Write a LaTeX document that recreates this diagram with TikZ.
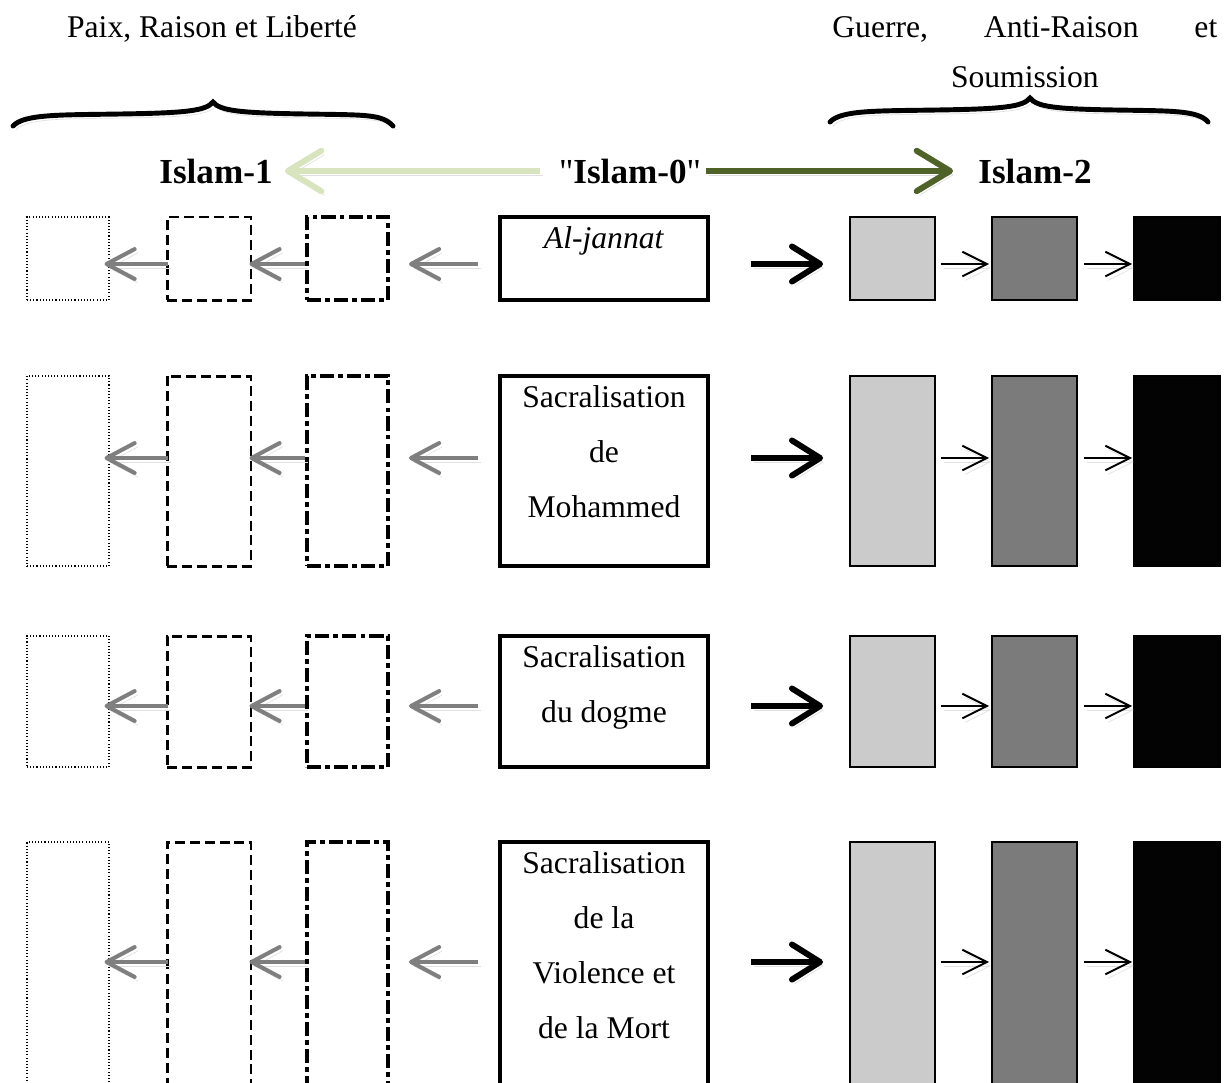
\documentclass[tikz,border=0pt]{standalone}
\usepackage{fontspec}
\setmainfont{Liberation Serif}
\usetikzlibrary{arrows.meta,positioning}
\definecolor{PaleGreen}{HTML}{D7E4BD}
\definecolor{OliveDark}{HTML}{4F6228}
\definecolor{ArrowGray}{HTML}{7F7F7F}
\definecolor{FillLight}{HTML}{CBCBCB}
\definecolor{FillMid}{HTML}{7B7B7B}
\definecolor{FillDark}{HTML}{030303}

\begin{document}
\begin{tikzpicture}[
  x=0.02cm, y=-0.02cm,
  font=\fontsize{18}{31.3}\selectfont,
  shadowed/.style={preaction={draw=black!12, transform canvas={shift={(3,4)}}}},
  label/.style={anchor=base, inner sep=0, font=\fontsize{20}{24}\selectfont},
  dotbox/.style={draw, line width=0.6pt, dash pattern=on 0.6pt off 1.2pt},
  dashbox/.style={draw, line width=1.7pt, dash pattern=on 5.7pt off 2.8pt},
  ddbox/.style={draw, line width=2.3pt, dash pattern=on 8pt off 2.3pt on 2.8pt off 2.3pt},
  midbox/.style={draw, line width=2.3pt},
  fillbox/.style={draw, line width=1.1pt, fill=#1},
  leftarrow/.style={ArrowGray, line width=2.3pt, -{Straight Barb[length=16pt,width=17pt,round]}, shadowed},
  bigarrow/.style={line width=3.4pt, -{Straight Barb[length=16pt,width=20pt,round]}, shadowed},
  smallarrow/.style={line width=1.1pt, -{Straight Barb[length=14pt,width=14pt]}, shadowed},
  toparrow/.style={line width=3.4pt, -{Straight Barb[length=19pt,width=23pt,round]}, shadowed},
  brace/.style={line width=2.8pt, line cap=round, shadowed}
]
  \useasboundingbox (0,0) rectangle (1229,1082);
  \clip (0,0) rectangle (1229,1082);

  % headings
  \node[anchor=base] (paix) at (212,37) {Paix, Raison et Liberté};
  \node[anchor=north west, inner sep=0, text width=7.7cm, align=center,
        font=\fontsize{18}{28.5}\selectfont] (guerre) at (832,16)
        {Guerre,\hfill Anti-Raison\hfill et\\Soumission};

  \draw[brace] (13,126) .. controls (24,114) and (60,115) .. (120,114)
    .. controls (185,113) and (206,111) .. (213,102)
    .. controls (220,111) and (241,113) .. (306,114)
    .. controls (366,115) and (382,114) .. (393,126);
  \draw[brace] (830,122) .. controls (841,110) and (877,111) .. (937,110)
    .. controls (1002,109) and (1023,107) .. (1030,98)
    .. controls (1037,107) and (1056,109) .. (1115,110)
    .. controls (1170,111) and (1198,110) .. (1208,122);

  \node[label, font=\bfseries\fontsize{20}{24}\selectfont] (isl1) at (216,183) {Islam-1};
  \node[label] (isl0) at (630,183) {\textquotedbl\textbf{Islam-0}\textquotedbl};
  \node[label, font=\bfseries\fontsize{20}{24}\selectfont] (isl2) at (1035,183) {Islam-2};
  \draw[toparrow, PaleGreen, shorten <=0.38cm, shorten >=0.24cm] (isl0.west) -- (isl1.east);
  \draw[toparrow, OliveDark, shorten <=0.1cm, shorten >=0.5cm] (isl0.east) -- (isl2.west);

  % rows
  \foreach \r/\ytop/\ybot/\yarr/\txt in {
      1/217/300/264/{\textit{Al-jannat}},
      2/376/566/458/{Sacralisation\\de\\Mohammed},
      3/636/767/706/{Sacralisation\\du dogme},
      4/842/1095/962/{Sacralisation\\de la\\Violence et\\de la Mort}}{
    \pgfmathsetmacro\ymid{(\ytop+\ybot)/2}
    \pgfmathsetmacro\hgt{(\ybot-\ytop)*0.02}
    \coordinate (ay\r) at (0,\yarr);
    \node[dotbox, minimum width=1.64cm, minimum height=\hgt cm] (dot\r) at (68,\ymid) {};
    \node[dashbox, minimum width=1.68cm, minimum height=\hgt cm] (dash\r) at (209,\ymid) {};
    \node[ddbox, minimum width=1.62cm, minimum height=\hgt cm] (dd\r) at (347.5,\ymid) {};
    \node[midbox, minimum width=4.16cm, minimum height=\hgt cm] (mid\r) at (604,\ymid) {};
    \node[anchor=north, inner sep=0, align=center] (txt\r) at ([yshift=-0.22cm]mid\r.north) {\txt};
    \node[fillbox=FillLight, minimum width=1.7cm, minimum height=\hgt cm] (lg\r) at (892.5,\ymid) {};
    \node[fillbox=FillMid, minimum width=1.7cm, minimum height=\hgt cm] (dg\r) at (1034.5,\ymid) {};
    \node[fillbox=FillDark, minimum width=1.72cm, minimum height=\hgt cm] (bk\r) at (1177,\ymid) {};

    \draw[leftarrow, shorten <=0.4cm, shorten >=0.38cm] (mid\r.west |- ay\r) -- (dd\r.east |- ay\r);
    \draw[leftarrow, shorten >=-0.06cm] (dd\r.west |- ay\r) -- (dash\r.east |- ay\r);
    \draw[leftarrow, shorten <=-0.04cm, shorten >=-0.1cm] (dash\r.west |- ay\r) -- (dot\r.east |- ay\r);
    \draw[bigarrow, shorten <=0.82cm, shorten >=0.52cm] (mid\r.east |- ay\r) -- (lg\r.west |- ay\r);
    \draw[smallarrow, shorten <=0.1cm, shorten >=0.04cm] (lg\r.east |- ay\r) -- (dg\r.west |- ay\r);
    \draw[smallarrow, shorten <=0.12cm, shorten >=0.02cm] (dg\r.east |- ay\r) -- (bk\r.west |- ay\r);
  }
\end{tikzpicture}
\end{document}
